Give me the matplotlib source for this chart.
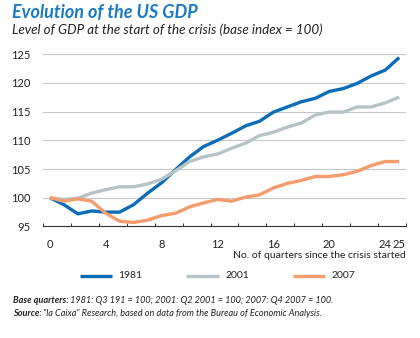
import numpy as np
import matplotlib
matplotlib.use("Agg")
import matplotlib.pyplot as plt
from matplotlib.lines import Line2D

plt.rcParams["font.family"] = ["Lato", "DejaVu Sans"]

# GDP index (base quarter = 100), quarters since the crisis started
quarters = list(range(26))
gdp_1981 = [100.0, 98.8, 97.2, 97.7, 97.5, 97.5, 98.8, 100.8, 102.6, 104.9,
            107.1, 108.9, 110.0, 111.2, 112.5, 113.3, 114.9, 115.8, 116.7, 117.3,
            118.5, 119.0, 119.9, 121.2, 122.2, 124.4]
gdp_2001 = [100.0, 99.7, 99.9, 100.8, 101.4, 101.9, 101.9, 102.4, 103.2, 104.7,
            106.3, 107.1, 107.6, 108.6, 109.5, 110.8, 111.4, 112.3, 113.0, 114.4,
            114.9, 114.9, 115.8, 115.8, 116.5, 117.5]
gdp_2007 = [100.0, 99.4, 99.8, 99.4, 97.3, 95.9, 95.7, 96.1, 96.9, 97.3,
            98.4, 99.1, 99.7, 99.4, 100.1, 100.5, 101.7, 102.5, 103.0, 103.7,
            103.7, 104.0, 104.6, 105.6, 106.3, 106.3]
series_labels = ["1981", "2001", "2007"]
xtick_vals = [0, 4, 8, 12, 16, 20, 24, 25]
ytick_vals = [95, 100, 105, 110, 115, 120, 125]

BLUE = "#0b6cb8"
GREY = "#b6c3c6"
ORANGE = "#f59b6c"
TXT = "#222222"
W, H = 420, 338

fig = plt.figure(figsize=(4.2, 3.38), dpi=100)
ax = fig.add_axes([0.102, 0.330, 0.865, 0.510])

for y in ytick_vals[1:]:
    ax.axhline(y, color="#c8c8c8", lw=0.8, zorder=0)

colors = [BLUE, GREY, ORANGE]
for data, c in zip([gdp_1981, gdp_2001, gdp_2007], colors):
    ax.plot(quarters, data, color=c, lw=2.4, solid_capstyle="butt", zorder=3)

ax.set_xlim(-0.5, 25.5)
ax.set_ylim(95, 125)
for s in ["top", "right", "left"]:
    ax.spines[s].set_visible(False)
ax.spines["bottom"].set_color("#333333")
ax.spines["bottom"].set_linewidth(0.8)

ax.set_yticks(ytick_vals)
ax.tick_params(axis="y", length=0, pad=9, labelsize=8, labelcolor=TXT)
ax.set_xticks(xtick_vals)
ax.set_xticklabels([str(v) for v in xtick_vals])
ax.tick_params(axis="x", length=0, pad=9, labelsize=8, labelcolor=TXT)
# small inward ticks at category boundaries every two quarters
ax.set_xticks(np.arange(-0.5, 25.6, 2.0), minor=True)
ax.tick_params(axis="x", which="minor", direction="in", length=2.5,
               width=0.7, color="#333333")

fig.text(0.967, 0.245, "No. of quarters since the crisis started", ha="right",
         va="center", fontsize=7.5, color=TXT)

# title block
fig.text(0.028, 0.962, "Evolution of the US GDP", ha="left", va="center",
         fontsize=13, fontweight="bold", fontstyle="italic", color="#1a7bc4")
fig.text(0.028, 0.912, "Level of GDP at the start of the crisis (base index = 100)",
         ha="left", va="center", fontsize=9.6, fontstyle="italic", color=TXT)

# legend, drawn by hand to match spacing
leg_y = 1 - 275.5 / H
for (x0, x1), lab, c in zip([(80, 112), (186, 219), (293, 325)], series_labels, colors):
    fig.add_artist(Line2D([x0 / W, x1 / W], [leg_y, leg_y], color=c, lw=2.4,
                          solid_capstyle="butt"))
    fig.text((x1 + 6) / W, leg_y, lab, ha="left", va="center", fontsize=7.5, color=TXT)

# footnotes: bold-italic lead-in followed by italic text
fig.canvas.draw()
rend = fig.canvas.get_renderer()
notes = [("Base quarters:", " 1981: Q3 191 = 100; 2001: Q2 2001 = 100; 2007: Q4 2007 = 100.", 0.112),
         ("Source:", ' "la Caixa" Research, based on data from the Bureau of Economic Analysis.', 0.073)]
for bold, rest, yy in notes:
    t = fig.text(0.03, yy, bold, ha="left", va="center", fontsize=6.6,
                 fontstyle="italic", fontweight="bold", color=TXT)
    bb = t.get_window_extent(renderer=rend)
    fig.text(bb.x1 / W, yy, rest, ha="left", va="center", fontsize=6.6,
             fontstyle="italic", color=TXT)

fig.savefig("out.png", dpi=100)
